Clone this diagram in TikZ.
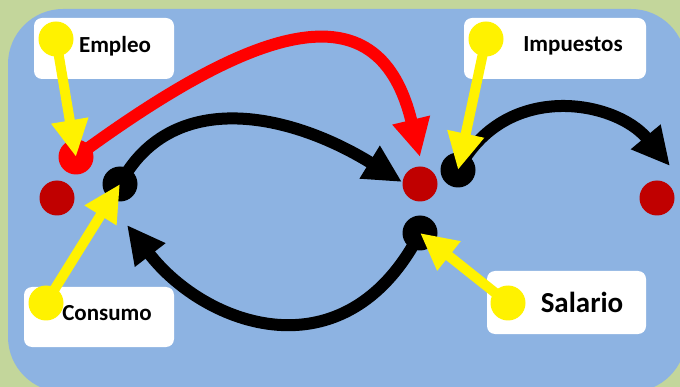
\documentclass[tikz,border=0pt]{standalone}
\usepackage{fontspec}
\setmainfont{Carlito}
\usetikzlibrary{arrows.meta}
\definecolor{bggreen}{HTML}{C3D69B}
\definecolor{panelblue}{HTML}{8DB3E2}
\definecolor{darkred}{HTML}{C00000}
\tikzset{
  lblbox/.style={fill=white, rounded corners=8pt, draw=none, inner sep=0pt},
  lbltext/.style={inner sep=0pt, font=\fontsize{23}{27}\selectfont\bfseries},
  dot/.style={circle, minimum size=35pt, inner sep=0pt, draw=none},
  ydot/.style={dot, fill=yellow},
  flow/.style={line width=12pt, -{Triangle[length=38pt,width=36pt]}},
  yarrow/.style={line width=10pt, yellow, -{Triangle[length=37pt,width=35pt]}}
}
\begin{document}
\begin{tikzpicture}[x=1pt,y=-1pt]
\fill[bggreen] (0,0) rectangle (680,387);
\useasboundingbox (0,0) rectangle (680,387);
\begin{scope}
\clip (0,0) rectangle (680,387);
\fill[panelblue, rounded corners=55pt] (8,9) rectangle (686,392);
\end{scope}
% label boxes
\node[lblbox, minimum width=140pt, minimum height=61pt] (empbox) at (104,48.5) {};
\node[lblbox, minimum width=182pt, minimum height=61pt] (impbox) at (555,48.5) {};
\node[lblbox, minimum width=150pt, minimum height=60pt] (conbox) at (99,317) {};
\node[lblbox, minimum width=159pt, minimum height=63pt] (salbox) at (566.5,302.5) {};
% dots
\node[dot, fill=darkred] (d1) at (57,198) {};
\node[dot, fill=darkred] (d2) at (420,184) {};
\node[dot, fill=darkred] (d3) at (657,198) {};
\node[dot, fill=red] (r1) at (76,157) {};
\node[dot, fill=black] (b1) at (120,184) {};
\node[dot, fill=black] (b2) at (458,170) {};
\node[dot, fill=black] (b3) at (420,233) {};
% tips
\coordinate (tr) at (420,157);
\coordinate (tb1) at (402,182);
\coordinate (tb2) at (670,166);
\coordinate (tb3) at (127,225);
% flows
\draw[flow, red] (r1.center) .. controls (265,18) and (380,-10) .. (tr);
\draw[flow, black] (b1.center) .. controls (170,90) and (285,110) .. (tb1);
\draw[flow, black] (b2.center) .. controls (505,80) and (615,100) .. (tb2);
\draw[flow, black] (b3.center) .. controls (345,378) and (205,326) .. (tb3);
% yellow pointers
\node[ydot] (yemp) at (56,39) {};
\node[ydot] (yimp) at (486,39) {};
\node[ydot] (ycon) at (46,303) {};
\node[ydot] (ysal) at (508,303) {};
\draw[yarrow] (yemp.center) -- (r1.center);
\draw[yarrow] (yimp.center) -- (b2.center);
\draw[yarrow] (ycon.center) -- (b1.center);
\draw[yarrow] (ysal.center) -- (b3.center);
% texts
\node[lbltext] (temp) at (115,46) {Empleo};
\node[lbltext] (timp) at (573,46) {Impuestos};
\node[lbltext] (tcon) at (107,313) {Consumo};
\node[lbltext, font=\fontsize{29}{33}\selectfont\bfseries] (tsal) at (582,302) {Salario};
\end{tikzpicture}
\end{document}
